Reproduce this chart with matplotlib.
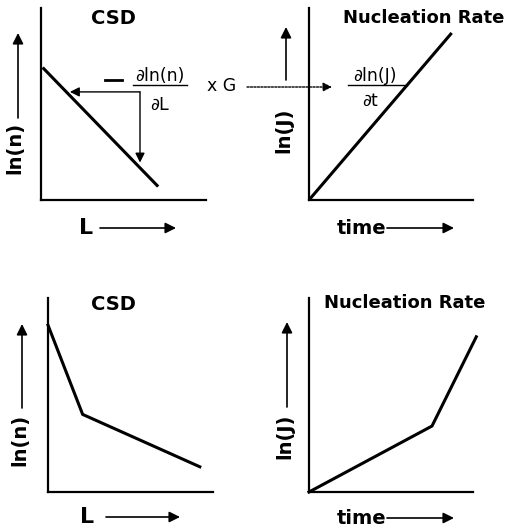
import matplotlib
matplotlib.use("Agg")
import matplotlib.pyplot as plt

# sketch data (arbitrary units, axes run 0..10)
csd_top_L = [0.1, 7.1]
csd_top_n = [6.9, 0.7]
nuc_top_t = [0.0, 8.7]
nuc_top_J = [0.0, 8.7]
csd_bot_L = [0.0, 2.1, 9.2]
csd_bot_n = [8.6, 4.0, 1.3]
nuc_bot_t = [0.0, 7.5, 10.2]
nuc_bot_J = [0.0, 3.4, 8.0]

W, H = 505, 528
fig = plt.figure(figsize=(W / 100, H / 100), dpi=100)


def P(x, y):
    # pixel position (top-left origin) -> figure fraction
    return (x / W, 1 - y / H)


def make_ax(left, top, right, bottom):
    ax = fig.add_axes([left / W, 1 - bottom / H, (right - left) / W, (bottom - top) / H])
    ax.set_xlim(0, 10)
    ax.set_ylim(0, 10)
    for s in ("top", "right"):
        ax.spines[s].set_visible(False)
    for s in ("left", "bottom"):
        ax.spines[s].set_linewidth(1.6)
    ax.set_xticks([])
    ax.set_yticks([])
    ax.patch.set_alpha(0)
    return ax


def arrow(p0, p1, lw=1.2, ms=16, ls="-"):
    fig.add_artist(matplotlib.patches.FancyArrowPatch(
        P(*p0), P(*p1), transform=fig.transFigure, arrowstyle="-|>",
        mutation_scale=ms, lw=lw, color="k", linestyle=ls, shrinkA=0, shrinkB=0))


def txt(x, y, s, **kw):
    kw.setdefault("ha", "center")
    kw.setdefault("va", "center")
    fig.text(*P(x, y), s, **kw)


bold = dict(fontweight="bold", family="DejaVu Sans")
reg = dict(family="DejaVu Sans", fontsize=12.5)

# top left: CSD
ax1 = make_ax(41, 8, 206, 200)
ax1.plot(csd_top_L, csd_top_n, color="k", lw=2.2, solid_capstyle="butt")
ax1.annotate("", xy=(1.75, 5.63), xytext=(6.0, 5.63),
             arrowprops=dict(arrowstyle="-|>", lw=1.0, color="k", mutation_scale=14, shrinkA=0, shrinkB=0))
ax1.annotate("", xy=(6.0, 1.95), xytext=(6.0, 5.63),
             arrowprops=dict(arrowstyle="-|>", lw=1.0, color="k", mutation_scale=14, shrinkA=0, shrinkB=0))
txt(113, 18, "CSD", fontsize=14, **bold)
txt(15, 148, "ln(n)", rotation=90, fontsize=14, **bold)
arrow((18, 118), (18, 33))
txt(86, 228, "L", fontsize=16, **bold)
arrow((100, 228), (176, 228))

# derivative label and dotted transfer arrow
fig.add_artist(matplotlib.lines.Line2D([105 / W, 122 / W], [P(0, 80)[1]] * 2, color="k", lw=2.0))
txt(160, 76, "\u2202ln(n)", **reg)
fig.add_artist(matplotlib.lines.Line2D([133 / W, 187 / W], [P(0, 85)[1]] * 2, color="k", lw=1.0))
txt(160, 105, "\u2202L", **reg)
txt(222, 86, "x G", **reg)
arrow((247, 87), (332, 87), lw=1.0, ms=13, ls=(0, (1.5, 1)))

# top right: nucleation rate
ax2 = make_ax(309, 8, 473, 200)
ax2.plot(nuc_top_t, nuc_top_J, color="k", lw=2.2, solid_capstyle="butt")
txt(424, 18, "Nucleation Rate", fontsize=13, **bold)
txt(284, 130, "ln(J)", rotation=90, fontsize=14, **bold)
arrow((286, 80), (286, 27))
txt(375, 76, "\u2202ln(J)", **reg)
fig.add_artist(matplotlib.lines.Line2D([348 / W, 407 / W], [P(0, 85)[1]] * 2, color="k", lw=1.0))
txt(370, 101, "\u2202t", **reg)
txt(362, 228, "time", fontsize=14, **bold)
arrow((387, 228), (454, 228))

# bottom left: CSD
ax3 = make_ax(48, 298, 213, 492)
ax3.plot(csd_bot_L, csd_bot_n, color="k", lw=2.2, solid_joinstyle="miter", clip_on=False)
txt(113, 305, "CSD", fontsize=14, **bold)
txt(20, 440, "ln(n)", rotation=90, fontsize=14, **bold)
arrow((22, 408), (22, 324))
txt(87, 517, "L", fontsize=16, **bold)
arrow((106, 517), (180, 517))

# bottom right: nucleation rate
ax4 = make_ax(309, 298, 473, 492)
ax4.plot(nuc_bot_t, nuc_bot_J, color="k", lw=2.2, solid_joinstyle="miter", clip_on=False)
txt(405, 303, "Nucleation Rate", fontsize=13, **bold)
txt(285, 436, "ln(J)", rotation=90, fontsize=14, **bold)
arrow((287, 407), (287, 322))
txt(362, 518, "time", fontsize=14, **bold)
arrow((387, 518), (454, 518))

fig.savefig("out.png", dpi=100)
